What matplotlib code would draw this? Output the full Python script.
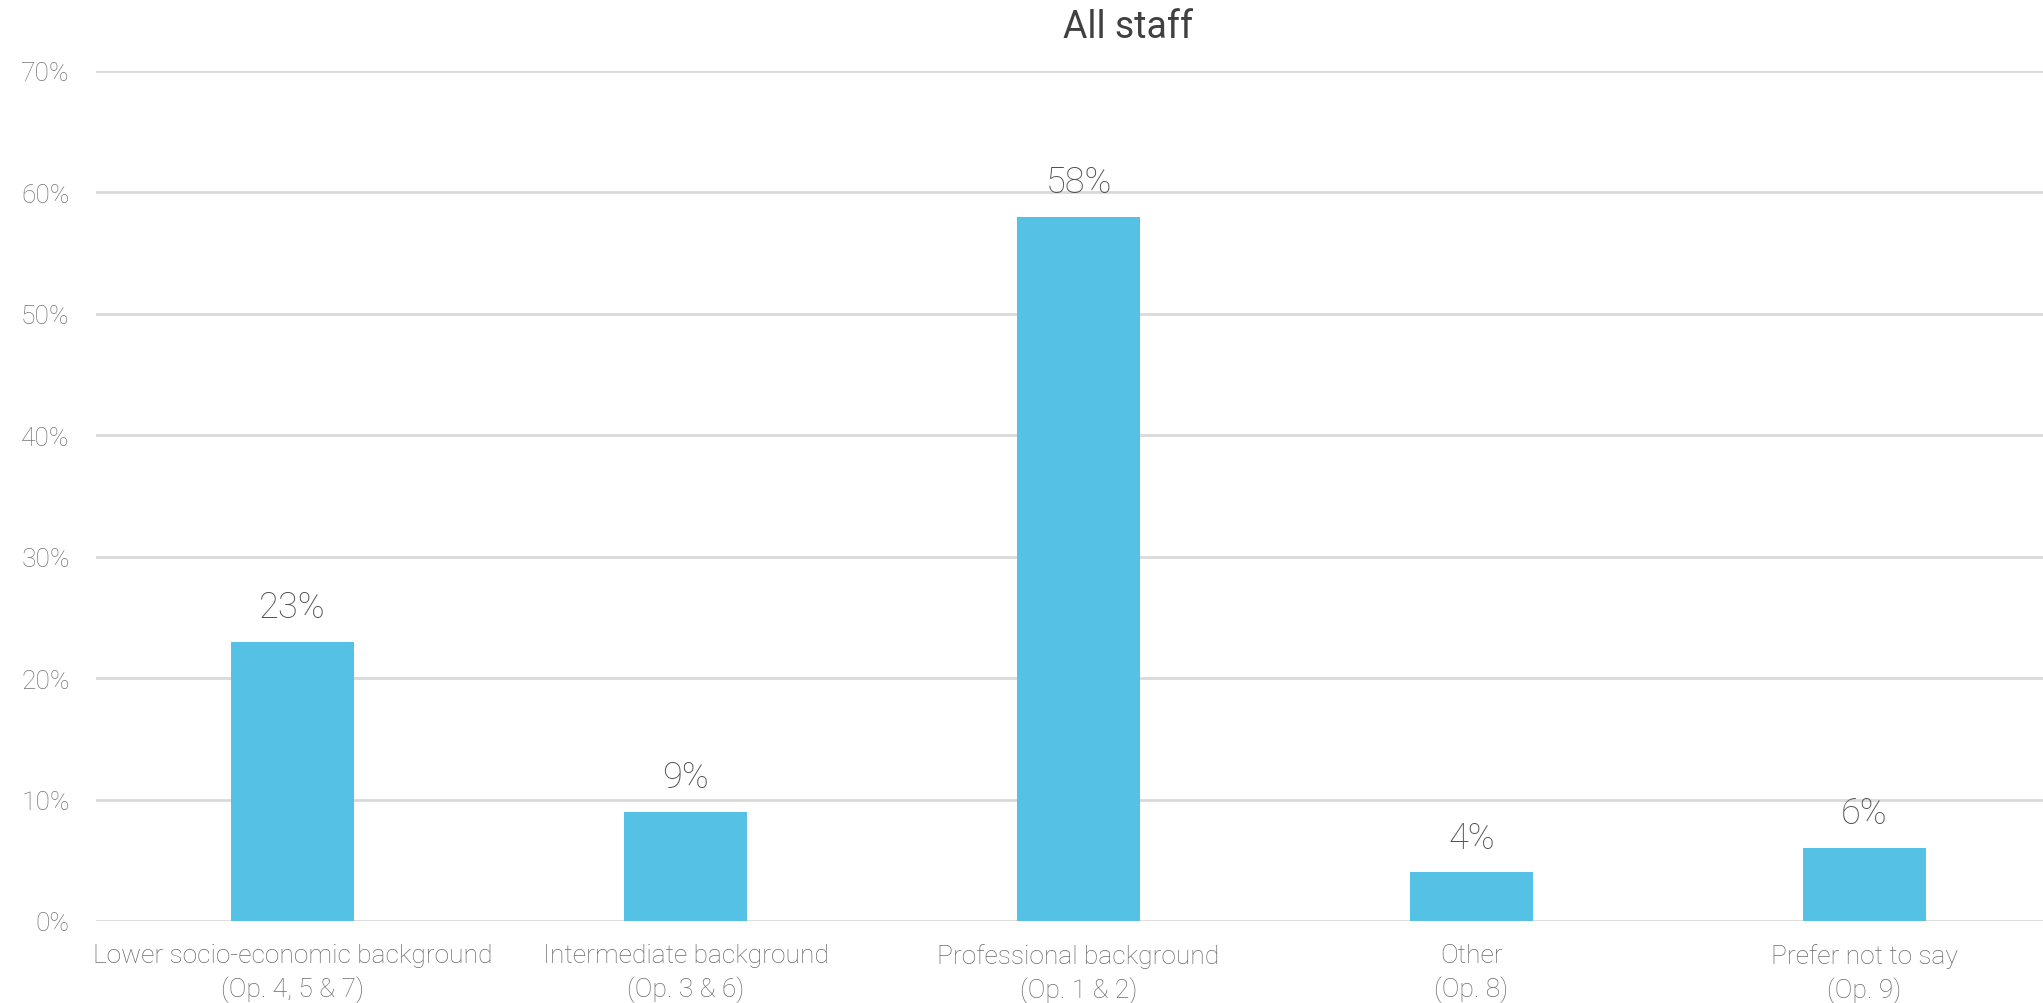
"""Bar chart: socio-economic background, all staff."""

import numpy as np
import matplotlib
matplotlib.use("Agg")
import matplotlib.pyplot as plt
from matplotlib.ticker import FuncFormatter, MultipleLocator

plt.rcParams["font.family"] = ["Roboto", "DejaVu Sans"]

categories = [
    "Lower socio-economic background\n(Op. 4, 5 & 7)",
    "Intermediate background\n(Op. 3 & 6)",
    "Professional background\n(Op. 1 & 2)",
    "Other\n(Op. 8)",
    "Prefer not to say\n(Op. 9)",
]
values = [23, 9, 58, 4, 6]
title = "All staff"

BAR_COLOR = "#55C1E4"
GRID_COLOR = "#D9D9D9"

fig = plt.figure(figsize=(20.43, 10.04), dpi=100)
# the plot area runs a little past the right edge, as in the original export
ax = fig.add_axes([0.047, 0.0817, 0.9618, 0.8466])

x = np.arange(len(categories))
ax.bar(x, values, width=0.313, color=BAR_COLOR, zorder=3)

for xi, v in zip(x, values):
    ax.annotate(f"{v}%", (xi, v), xytext=(0, 12), textcoords="offset points",
                ha="center", va="bottom", fontsize=26, color="#505050",
                fontweight="light")

ax.set_ylim(0, 70)
ax.set_xlim(-0.5, 4.5)
ax.yaxis.set_major_locator(MultipleLocator(10))
ax.yaxis.set_major_formatter(FuncFormatter(lambda v, _: f"{v:.0f}%"))
ax.grid(axis="y", color=GRID_COLOR, linewidth=2, zorder=0)
for s in ax.spines.values():
    s.set_visible(False)

ax.set_xticks(x)
ax.set_xticklabels(categories, fontsize=19, color="#6A6A6A", fontweight="light",
                   linespacing=1.42)
ax.tick_params(axis="x", length=0, pad=16)
ax.tick_params(axis="y", length=0, pad=19, labelsize=19, labelcolor="#757575")
for lbl in ax.get_yticklabels():
    lbl.set_fontweight("light")

fig.text(0.552, 0.973, title, ha="center", va="center", fontsize=27,
         color="#404040")

fig.savefig("out.png", dpi=100)
